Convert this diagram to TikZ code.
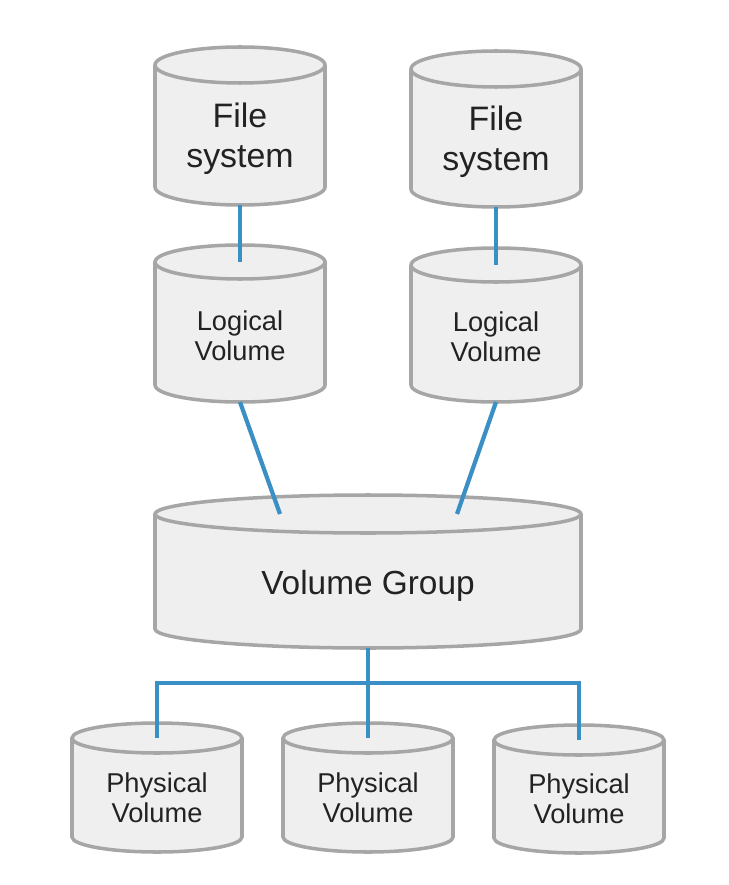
\documentclass[tikz,border=0pt]{standalone}
\usepackage{fontspec}
\setmainfont{Liberation Sans}
\usetikzlibrary{calc}
\definecolor{drumgray}{HTML}{A6A6A6}
\definecolor{drumfill}{HTML}{EFEFEF}
\definecolor{linkblue}{HTML}{3A8FC5}
\definecolor{labelink}{HTML}{222222}

\tikzset{
  drumbody/.style={fill=drumfill,draw=drumgray,line width=2pt},
  drumside/.style={draw=drumgray,line width=2pt},
  drumtext/.style={align=center,text=labelink,inner sep=0pt},
  link/.style={draw=linkblue,line width=2.4pt}
}

% drum: name, cx, top, bottom, half width, ry, font, label
\newcommand{\drum}[8]{%
  \filldraw[drumbody] (#2,{#4-#6}) ellipse[x radius=#5,y radius=#6];
  \fill[drumfill] ({#2-#5},{#3+#6}) rectangle ({#2+#5},{#4-#6});
  \draw[drumside] ({#2-#5},{#3+#6}) -- ({#2-#5},{#4-#6})
                  ({#2+#5},{#3+#6}) -- ({#2+#5},{#4-#6});
  \filldraw[drumbody] (#2,{#3+#6}) ellipse[x radius=#5,y radius=#6];
  \node[drumtext,font=#7] (#1) at (#2,{(#3+2*#6+#4)/2-5}) {#8};
  \coordinate (#1-t) at (#2,{#3+#6});
  \coordinate (#1-b) at (#2,#4);
}

\begin{document}
\begin{tikzpicture}[x=0.02cm,y=-0.02cm]
  \useasboundingbox (0,0) rectangle (728,885);

  % file systems and logical volumes
  \drum{fs1}{240}{47}{205}{85}{18}{\fontsize{19.3}{22.5}\selectfont}{File\\system}
  \drum{fs2}{496}{51}{207}{85}{18}{\fontsize{19.3}{22.5}\selectfont}{File\\system}
  \drum{lv1}{240}{245}{402}{85}{17}{\fontsize{15.5}{17}\selectfont}{Logical\\Volume}
  \drum{lv2}{496}{248}{402}{85}{17}{\fontsize{15.5}{17}\selectfont}{Logical\\Volume}

  % volume group
  \drum{vg}{368}{495}{648}{213}{19}{\fontsize{19}{22}\selectfont}{Volume Group}

  % physical volumes
  \drum{pv1}{157}{723}{852}{85}{15}{\fontsize{15.5}{17}\selectfont}{Physical\\Volume}
  \drum{pv2}{368}{723}{852}{85}{15}{\fontsize{15.5}{17}\selectfont}{Physical\\Volume}
  \drum{pv3}{579}{725}{853}{85}{15}{\fontsize{15.5}{17}\selectfont}{Physical\\Volume}

  % links
  \draw[link] (fs1-b) -- (lv1-t);
  \draw[link] (fs2-b) -- (lv2-t);
  \draw[link] (lv1-b) -- ($(vg-t)+(-88,0)$);
  \draw[link] (lv2-b) -- ($(vg-t)+(89,0)$);
  \draw[link] (vg-b) -- ++(0,35) coordinate (bus);
  \draw[link] (pv1-t) |- (bus) -| (pv3-t);
  \draw[link] (bus) -- (pv2-t);
\end{tikzpicture}
\end{document}
